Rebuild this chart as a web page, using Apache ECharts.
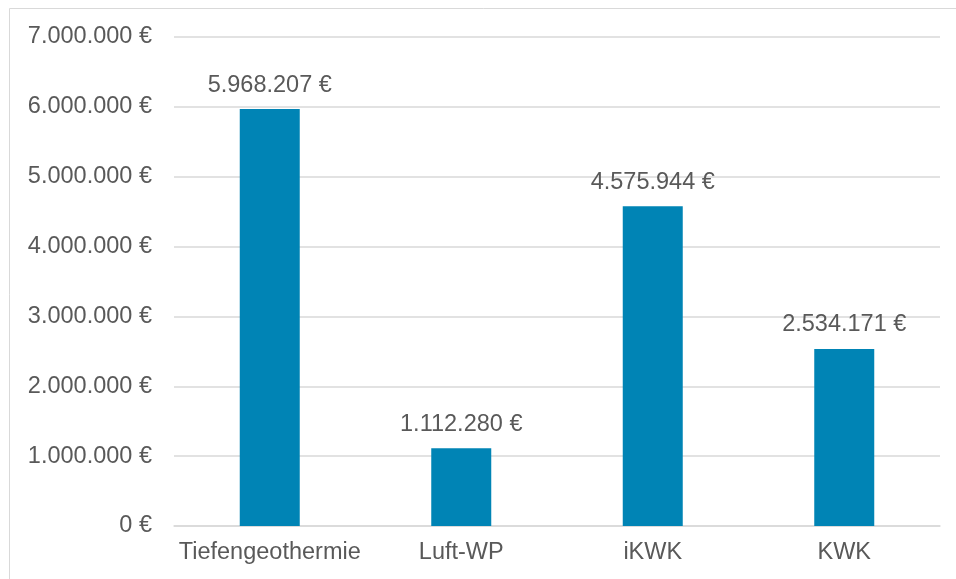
<!DOCTYPE html>
<html>
<head>
<meta charset="utf-8">
<script src="https://cdn.jsdelivr.net/npm/echarts@6/dist/echarts.min.js"></script>
<style>
  html, body { margin: 0; padding: 0; background: #ffffff; }
  #chart { width: 956px; height: 579px; }
</style>
</head>
<body>
<div id="chart"></div>
<script>
// Investitionskosten je Variante
const categories = ['Tiefengeothermie', 'Luft-WP', 'iKWK', 'KWK'];
const costs = [5968207, 1112280, 4575944, 2534171];
const yTicks = { min: 0, max: 7000000, interval: 1000000 };

// German thousands separator: 5968207 -> "5.968.207 €"
function euro(v) {
  const s = String(Math.round(v)).replace(/\B(?=(\d{3})+(?!\d))/g, '.');
  return s + ' €';
}

const textColor = '#595959';
const font = '"Liberation Sans", Arial, sans-serif';
const chart = echarts.init(document.getElementById('chart'), null, { renderer: 'canvas' });

chart.setOption({
  backgroundColor: '#ffffff',
  animation: false,
  graphic: [{
    type: 'rect',
    shape: { x: 9.5, y: 8.5, width: 2000, height: 2000 },
    style: { fill: 'none', stroke: '#d9d9d9', lineWidth: 1 },
    silent: true
  }],
  grid: { left: 174, right: 16, top: 37, bottom: 53, containLabel: false },
  xAxis: {
    type: 'category',
    data: categories,
    axisLine: { show: true, lineStyle: { color: '#d9d9d9', width: 1.5 } },
    axisTick: { show: false },
    axisLabel: { color: textColor, fontFamily: font, fontSize: 23.5, margin: 15, interval: 0, hideOverlap: false }
  },
  yAxis: {
    type: 'value',
    min: yTicks.min,
    max: yTicks.max,
    interval: yTicks.interval,
    axisLine: { show: false },
    axisTick: { show: false },
    splitLine: { lineStyle: { color: '#d9d9d9', width: 1.5 } },
    axisLabel: { color: textColor, fontFamily: font, fontSize: 23.5, margin: 22, formatter: euro }
  },
  series: [{
    type: 'bar',
    data: costs,
    barWidth: 60,
    itemStyle: { color: '#0084B5' },
    label: {
      show: true,
      position: 'top',
      distance: 12,
      color: textColor,
      fontFamily: font,
      fontSize: 23.5,
      formatter: p => euro(p.value)
    }
  }]
});
</script>
</body>
</html>
